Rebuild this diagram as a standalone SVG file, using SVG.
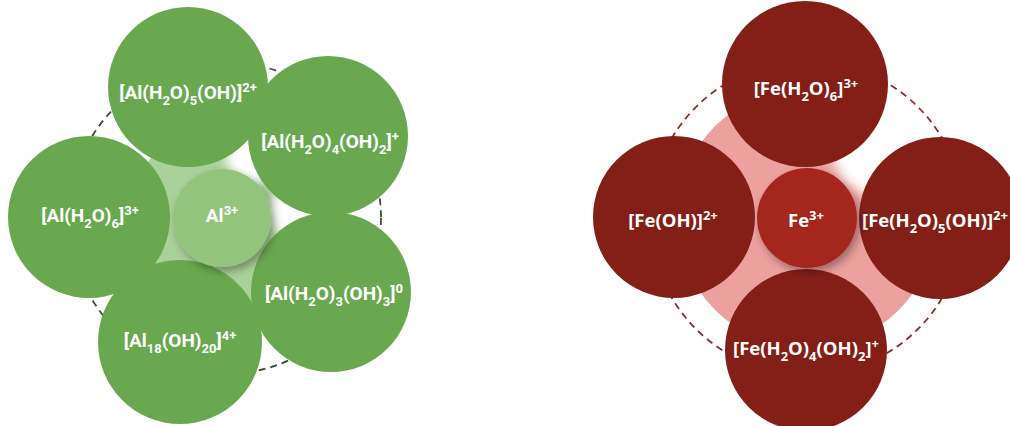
<svg xmlns="http://www.w3.org/2000/svg" width="1010" height="426" viewBox="0 0 1010 426">
<style>
.g{fill:#69a84f}
.gc{fill:#93c47d}
.r{fill:#841f18}
.rc{fill:#a5281f}
.dg{fill:none;stroke:#3f4d3a;stroke-width:1.8;stroke-dasharray:7 5}
.dr{fill:none;stroke:#8c2b28;stroke-width:1.8;stroke-dasharray:7 5}
.tg{font-family:Roboto,"Liberation Sans",sans-serif;font-weight:700;font-size:19px;fill:#fff;text-anchor:middle}
.tr{font-family:"Open Sans","Liberation Sans",sans-serif;font-weight:700;font-size:18.5px;fill:#fff;text-anchor:middle}
.s{font-size:13px}
</style>
<defs>
<filter id="sh" x="-30%" y="-30%" width="160%" height="160%">
<feDropShadow dx="3" dy="4" stdDeviation="4" flood-color="#000" flood-opacity="0.35"/>
</filter>
<filter id="bl" x="-50%" y="-50%" width="200%" height="200%">
<feGaussianBlur stdDeviation="6"/>
</filter>
</defs>

<g id="connectors">
<circle class="dg" cx="225" cy="218" r="156"/>
<circle class="dr" cx="807" cy="218" r="157"/>
</g>

<g id="al-background">
<circle cx="222" cy="218" r="93" fill="#a9d19a"/>
<circle cx="252" cy="158" r="26" fill="#fff" filter="url(#bl)"/>
<circle cx="292" cy="213" r="24" fill="#fff" filter="url(#bl)"/>
</g>
<g id="fe-background">
<circle cx="807" cy="218" r="130" fill="#eca19e"/>
<circle cx="880" cy="148" r="48" fill="#fff" filter="url(#bl)"/>
</g>

<g id="al-h2o5-oh">
<circle class="g" cx="188" cy="87" r="80"/>
<text class="tg" x="188" y="99">[Al(H<tspan class="s" dy="6">2</tspan><tspan dy="-6">O)</tspan><tspan class="s" dy="6">5</tspan><tspan dy="-6">(OH)]</tspan><tspan class="s" dy="-7">2+</tspan></text>
</g>
<g id="al-h2o4-oh2">
<circle class="g" cx="328" cy="136" r="80"/>
<text class="tg" x="330" y="148">[Al(H<tspan class="s" dy="6">2</tspan><tspan dy="-6">O)</tspan><tspan class="s" dy="6">4</tspan><tspan dy="-6">(OH)</tspan><tspan class="s" dy="6">2</tspan><tspan dy="-6">]</tspan><tspan class="s" dy="-7">+</tspan></text>
</g>
<g id="al-h2o6">
<circle class="g" cx="89" cy="217" r="81"/>
<text class="tg" x="90" y="222">[Al(H<tspan class="s" dy="6">2</tspan><tspan dy="-6">O)</tspan><tspan class="s" dy="6">6</tspan><tspan dy="-6">]</tspan><tspan class="s" dy="-7">3+</tspan></text>
</g>
<g id="al18-oh20">
<circle class="g" cx="180" cy="342" r="82"/>
<text class="tg" x="180" y="347">[Al<tspan class="s" dy="6">18</tspan><tspan dy="-6">(OH)</tspan><tspan class="s" dy="6">20</tspan><tspan dy="-6">]</tspan><tspan class="s" dy="-7">4+</tspan></text>
</g>
<g id="al-h2o3-oh3">
<circle class="g" cx="331" cy="292" r="80"/>
<text class="tg" x="334" y="300">[Al(H<tspan class="s" dy="6">2</tspan><tspan dy="-6">O)</tspan><tspan class="s" dy="6">3</tspan><tspan dy="-6">(OH)</tspan><tspan class="s" dy="6">3</tspan><tspan dy="-6">]</tspan><tspan class="s" dy="-7">0</tspan></text>
</g>
<g id="al3">
<circle class="gc" cx="222" cy="218" r="49" filter="url(#sh)"/>
<text class="tg" x="222" y="222">Al<tspan class="s" dy="-7">3+</tspan></text>
</g>

<g id="fe-h2o6">
<circle class="r" cx="805" cy="84" r="83"/>
<text class="tr" x="806" y="95">[Fe(H<tspan class="s" dy="6">2</tspan><tspan dy="-6">O)</tspan><tspan class="s" dy="6">6</tspan><tspan dy="-6">]</tspan><tspan class="s" dy="-7">3+</tspan></text>
</g>
<g id="fe-oh">
<circle class="r" cx="674" cy="217" r="81"/>
<text class="tr" x="673" y="227">[Fe(OH)]<tspan class="s" dy="-7">2+</tspan></text>
</g>
<g id="fe-h2o5-oh">
<circle class="r" cx="940" cy="218" r="81"/>
<text class="tr" x="935" y="227">[Fe(H<tspan class="s" dy="6">2</tspan><tspan dy="-6">O)</tspan><tspan class="s" dy="6">5</tspan><tspan dy="-6">(OH)]</tspan><tspan class="s" dy="-7">2+</tspan></text>
</g>
<g id="fe-h2o4-oh2">
<circle class="r" cx="806" cy="350" r="81"/>
<text class="tr" x="806" y="355">[Fe(H<tspan class="s" dy="6">2</tspan><tspan dy="-6">O)</tspan><tspan class="s" dy="6">4</tspan><tspan dy="-6">(OH)</tspan><tspan class="s" dy="6">2</tspan><tspan dy="-6">]</tspan><tspan class="s" dy="-7">+</tspan></text>
</g>
<g id="fe3">
<circle class="rc" cx="807" cy="218" r="50" filter="url(#sh)"/>
<text class="tr" x="806" y="227">Fe<tspan class="s" dy="-7">3+</tspan></text>
</g>
</svg>
